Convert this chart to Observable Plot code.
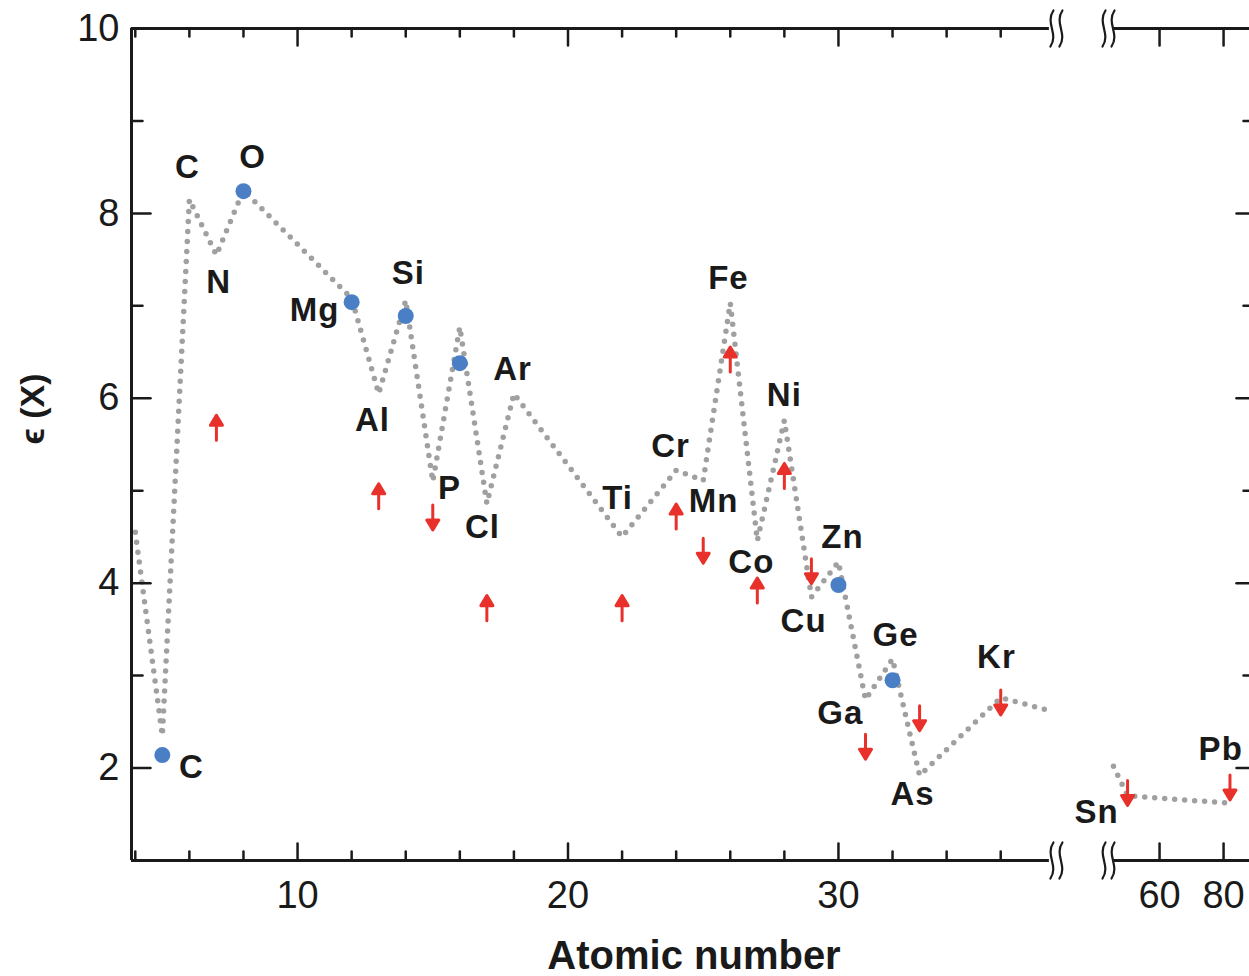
<!DOCTYPE html>
<html>
<head>
<meta charset="utf-8">
<script src="https://cdn.jsdelivr.net/npm/d3@7"></script>
<script src="https://cdn.jsdelivr.net/npm/@observablehq/plot@0.6"></script>
<style>
  html, body { margin: 0; padding: 0; background: #fff; }
  #chart { display: flex; width: 1249px; height: 976px; }
  #chart svg { flex: none; display: block; overflow: visible; }
</style>
</head>
<body>
<div id="chart"></div>
<script>
// ---------------- data ----------------
// dotted grey curve, light elements (left panel)
const lineZ   = [4, 5, 6, 7, 8, 12, 13, 14, 15, 16, 17, 18, 22, 24, 25, 26, 27, 28, 29, 30, 31, 32, 33, 36, 37.7];
const lineEps = [4.55, 2.35, 8.15, 7.55, 8.25, 7.08, 6.05, 7.06, 5.10, 6.77, 4.86, 6.05, 4.50, 5.22, 5.11, 7.03, 4.46, 5.76, 3.85, 4.23, 2.74, 3.18, 1.92, 2.76, 2.63];
// dotted grey curve, heavy elements (right panel)
const heavyZ   = [45.6, 50, 82];
const heavyEps = [2.02, 1.70, 1.62];
// blue points
const dotZ   = [5, 8, 12, 14, 16, 30, 32];
const dotEps = [2.14, 8.24, 7.04, 6.89, 6.38, 3.98, 2.95];
// red arrows
const arrowZ   = [7, 13, 15, 17, 22, 24, 25, 26, 27, 28, 29, 31, 33, 36, 50, 82];
const arrowEps = [5.68, 4.94, 4.71, 3.73, 3.73, 4.72, 4.35, 6.42, 3.92, 5.16, 4.13, 2.23, 2.54, 2.71, 1.73, 1.79];
const arrowDir = ["up", "up", "down", "up", "up", "up", "down", "up", "up", "up", "down", "down", "down", "down", "down", "down"];
// element labels (anchor in data units: atomic-number axis, epsilon axis)
const labelText = ["C", "N", "O", "Mg", "Al", "Si", "P", "Cl", "Ar", "Ti", "Cr", "Mn", "Fe", "Co", "Ni", "Cu", "Zn", "Ga", "Ge", "As", "Kr", "C", "Sn", "Pb"];
const labelX    = [5.93, 7.08, 8.34, 10.63, 12.77, 14.10, 15.62, 16.84, 17.95, 21.83, 23.79, 25.38, 25.93, 26.78, 28.00, 28.71, 30.15, 30.07, 32.11, 32.74, 35.84, 6.08, 40.3, 79.1];
const labelY    = [8.50, 7.25, 8.61, 6.95, 5.76, 7.35, 5.02, 4.60, 6.31, 4.92, 5.48, 4.88, 7.30, 4.22, 6.03, 3.59, 4.50, 2.59, 3.43, 1.72, 3.20, 2.01, 1.52, 2.20];
const labelPanel = ["L", "L", "L", "L", "L", "L", "L", "L", "L", "L", "L", "L", "L", "L", "L", "L", "L", "L", "L", "L", "L", "L", "R", "R"];
// axes
const epsDomain   = [1, 10];
const leftDomain  = [3.86, 38.95];
const rightDomain = [35.3, 88.1];
const leftBreak   = 38.06;   // axis break (left side)
const leftLineEnd = 37.8;
const rightBreak  = 44.05;   // axis break (right side)
const rightLineStart = 45.7;
const yMajorTicks = [2, 4, 6, 8, 10];
const yMinorTicks = [3, 5, 7, 9];
const xMajorLeft  = [10, 20, 30];
const xMinorLeft  = [4, 6, 8, 12, 14, 16, 18, 22, 24, 26, 28, 32, 34, 36];
const xMajorRight = [60, 80];
const xTitle = "Atomic number";
const yTitle = "ϵ (X)";

// ---------------- styling ----------------
const FONT = '"Liberation Sans", Arial, Helvetica, sans-serif';
const INK = "#1a1a1a", GRAY = "#a0a0a0", BLUE = "#4a7fc6", RED = "#e8312b";
const H = 976, MT = 28, MB = 116;

const lineShape = {draw(ctx, l) { ctx.moveTo(0, 0); ctx.lineTo(0, -l); }};
const arrowShape = {draw(ctx, l) {
  const h = 10, w = 6;
  ctx.moveTo(0, 0); ctx.lineTo(0, -l + h);
  ctx.moveTo(0, -l); ctx.lineTo(-w, -l + h); ctx.lineTo(w, -l + h); ctx.closePath();
}};
const squiggleShape = {draw(ctx, l) {
  for (const o of [-4.5, 4.5]) {
    ctx.moveTo(o - 1.5, 0);
    ctx.bezierCurveTo(o + 7, -l * 0.35, o - 7, -l * 0.65, o + 1.5, -l);
  }
}};

const pts = (zs, es) => zs.map((z, i) => ({z, e: es[i]}));
const lightLine = pts(lineZ, lineEps);
const heavyLine = pts(heavyZ, heavyEps);
const dots = pts(dotZ, dotEps);
const arrows = arrowZ.map((z, i) => ({z, e: arrowEps[i], dir: arrowDir[i]}));
const labels = labelText.map((t, i) => ({t, x: labelX[i], y: labelY[i], panel: labelPanel[i]}));

const spaced = (v) => (index, scales, values, dims, ctx, next) => {
  const g = next(index, scales, values, dims, ctx);
  g.setAttribute("letter-spacing", v);
  return g;
};

function tickMarks(values, anchor, rotate, length, channel) {
  const o = {frameAnchor: anchor, rotate, length, anchor: "start", shape: lineShape,
             stroke: INK, strokeWidth: 2.5, fill: "none"};
  o[channel] = d => d;
  return Plot.vector(values, o);
}

function dataMarks(panel, inPanel) {
  return [
    Plot.dot(dots.filter(d => inPanel(d.z)), {x: "z", y: "e", r: 8, fill: BLUE}),
    Plot.vector(arrows.filter(d => inPanel(d.z)), {
      x: "z", y: "e", rotate: d => d.dir === "up" ? 0 : 180, length: 25, anchor: "middle",
      shape: arrowShape, stroke: RED, fill: RED, strokeWidth: 3, strokeLinejoin: "round"
    }),
    Plot.text(labels.filter(d => d.panel === panel), {
      x: "x", y: "y", text: "t", fontSize: 33, fontWeight: "bold", fill: INK,
      lineAnchor: "middle", render: spaced("1")
    })
  ];
}

const lineStyle = {x: "z", y: "e", stroke: GRAY, strokeWidth: 5.5, strokeDasharray: "0 10",
                   strokeLinecap: "round", strokeLinejoin: "round"};

const left = Plot.plot({
  width: 1080, height: H,
  marginLeft: 131, marginRight: 0, marginTop: MT, marginBottom: MB,
  x: {domain: leftDomain, axis: null},
  y: {domain: epsDomain, axis: null},
  style: {fontFamily: FONT, overflow: "visible"},
  marks: [
    Plot.line(lightLine, lineStyle),
    ...dataMarks("L", z => z < 40),
    // frame
    Plot.ruleX([leftDomain[0]], {x: d => d, y1: epsDomain[0], y2: epsDomain[1], stroke: INK, strokeWidth: 3}),
    Plot.ruleY(epsDomain, {y: d => d, x1: leftDomain[0], x2: leftLineEnd, stroke: INK, strokeWidth: 3}),
    Plot.vector(epsDomain.map(e => ({z: leftBreak, e})), {
      x: "z", y: "e", length: 36, anchor: "middle", shape: squiggleShape,
      stroke: INK, strokeWidth: 2.2, fill: "none"
    }),
    // ticks
    tickMarks(xMajorLeft, "bottom", 0, 17, "x"),
    tickMarks(xMinorLeft, "bottom", 0, 9, "x"),
    tickMarks(xMajorLeft, "top", 180, 17, "x"),
    tickMarks(xMinorLeft, "top", 180, 8, "x"),
    tickMarks(yMajorTicks, "left", 90, 19, "y"),
    tickMarks(yMinorTicks, "left", 90, 11, "y"),
    // tick labels
    Plot.text(yMajorTicks, {y: d => d, text: d => String(d), frameAnchor: "left", dx: -12,
      textAnchor: "end", lineAnchor: "middle", fontSize: 38, fill: INK}),
    Plot.text(xMajorLeft, {x: d => d, text: d => String(d), frameAnchor: "bottom", dy: 35,
      lineAnchor: "middle", fontSize: 38, fill: INK}),
    // titles
    Plot.text([xTitle], {text: d => d, frameAnchor: "bottom", dx: 88, dy: 96,
      lineAnchor: "middle", fontSize: 40, fontWeight: "bold", fill: INK}),
    Plot.text([yTitle], {text: d => d, frameAnchor: "left", dx: -98, rotate: -90,
      lineAnchor: "middle", fontSize: 34, fontWeight: "bold", fill: INK})
  ]
});

const right = Plot.plot({
  width: 169, height: H,
  marginLeft: 0, marginRight: 0, marginTop: MT, marginBottom: MB,
  x: {domain: rightDomain, axis: null},
  y: {domain: epsDomain, axis: null},
  style: {fontFamily: FONT, overflow: "visible", background: "transparent"},
  marks: [
    Plot.line(heavyLine, lineStyle),
    ...dataMarks("R", z => z > 40),
    Plot.ruleY(epsDomain, {y: d => d, x1: rightLineStart, x2: rightDomain[1], stroke: INK, strokeWidth: 3}),
    Plot.vector(epsDomain.map(e => ({z: rightBreak, e})), {
      x: "z", y: "e", length: 36, anchor: "middle", shape: squiggleShape,
      stroke: INK, strokeWidth: 2.2, fill: "none"
    }),
    tickMarks(xMajorRight, "bottom", 0, 17, "x"),
    tickMarks(xMajorRight, "top", 180, 17, "x"),
    tickMarks(yMajorTicks.filter(d => d < 10), "right", 270, 13, "y"),
    tickMarks(yMinorTicks, "right", 270, 6, "y"),
    Plot.text(xMajorRight, {x: d => d, text: d => String(d), frameAnchor: "bottom", dy: 35,
      lineAnchor: "middle", fontSize: 38, fill: INK})
  ]
});

document.getElementById("chart").append(left, right);
</script>
</body>
</html>
